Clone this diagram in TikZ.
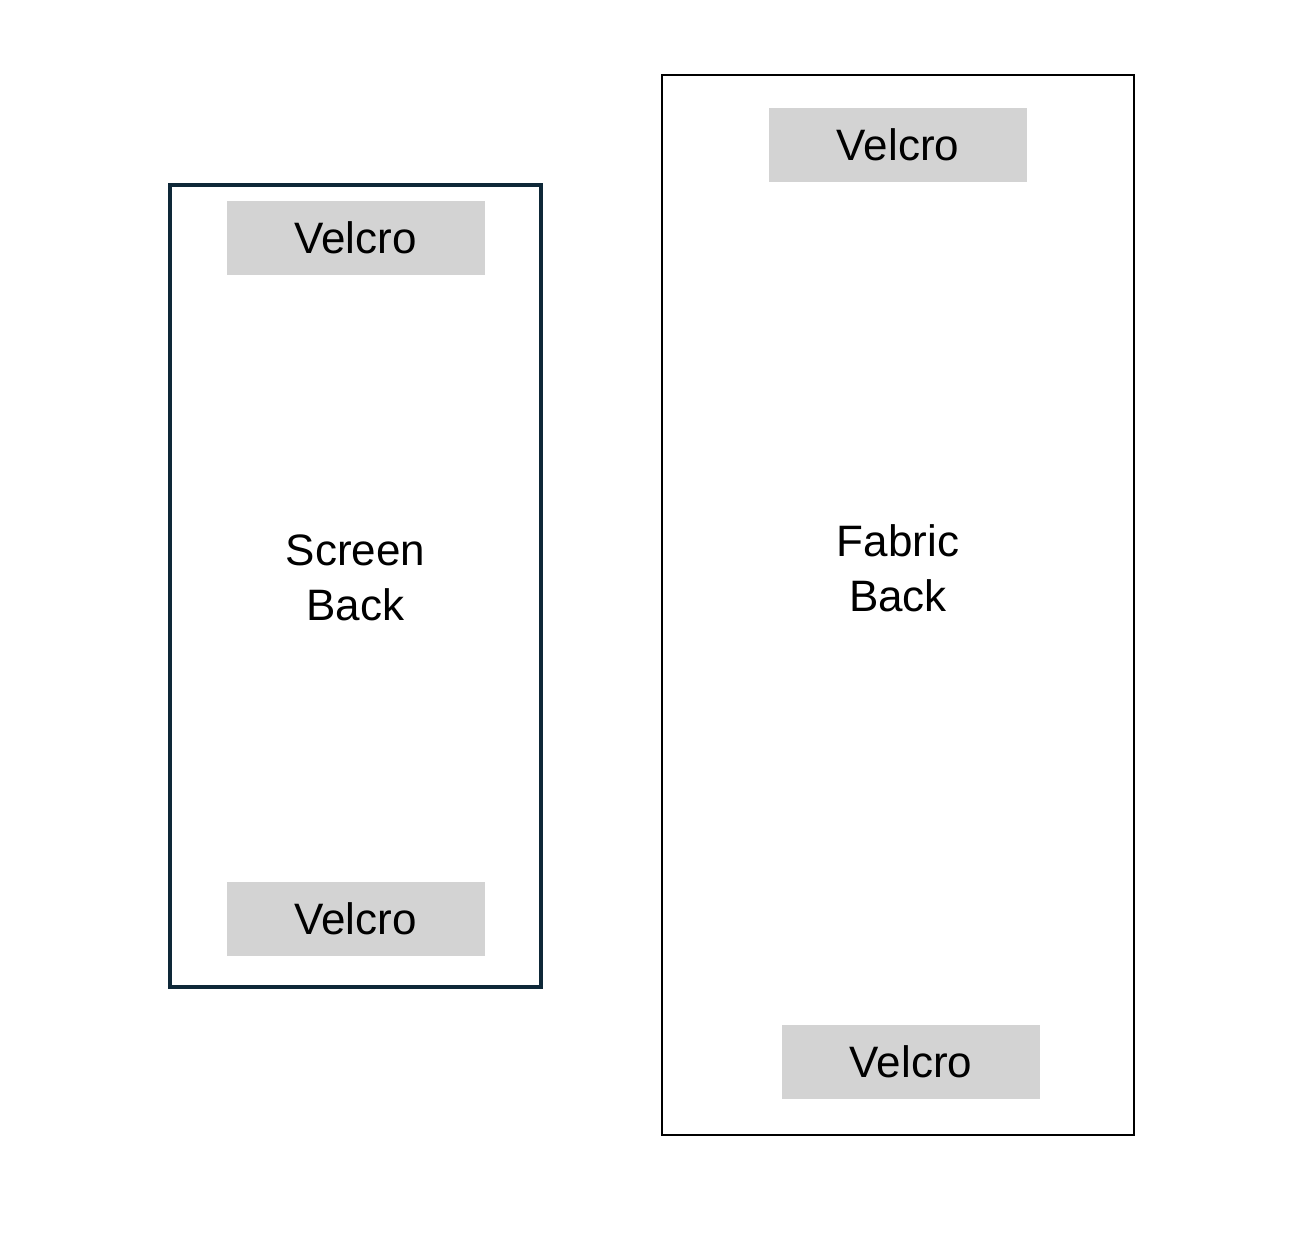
\documentclass[tikz,border=0pt]{standalone}
\usepackage{fontspec}
\setmainfont{Liberation Sans}
\usepackage{xcolor}
\usetikzlibrary{positioning}

\definecolor{framenavy}{RGB}{14,40,56}
\definecolor{velcrogray}{RGB}{211,211,211}

\begin{document}
\begin{tikzpicture}[x=1pt,y=-1pt,
    velcro/.style={fill=velcrogray, minimum width=258pt, minimum height=74pt, inner sep=0pt, font=\fontsize{44}{55}\selectfont},
    backlabel/.style={align=center, inner sep=0pt, font=\fontsize{44}{55}\selectfont}]
        \useasboundingbox (0,0) rectangle (1294,1258);

        % Frames
        \node (scr) [draw=framenavy, line width=3.5pt, minimum width=371pt, minimum height=802pt, inner sep=0pt, outer sep=0pt] at (355.5,586) {};
        \node (fab) [draw=black, line width=2pt, minimum width=472pt, minimum height=1060pt, inner sep=0pt, outer sep=0pt] at (898,605) {};

        % Velcro strips
        \node (scrtop) [velcro, below=16pt of scr.north] {Velcro};
        \node (scrbot) [velcro, above=31pt of scr.south] {Velcro};
        \node (fabtop) [velcro, below=33pt of fab.north] {Velcro};
        \node (fabbot) [velcro, above=36pt of fab.south, xshift=13pt] {Velcro};

        % Labels
        \node (scrtxt) [backlabel] at (355.5,578) {Screen\\Back};
        \node (fabtxt) [backlabel] at (898,568) {Fabric\\Back};

    \end{tikzpicture}
\end{document}
